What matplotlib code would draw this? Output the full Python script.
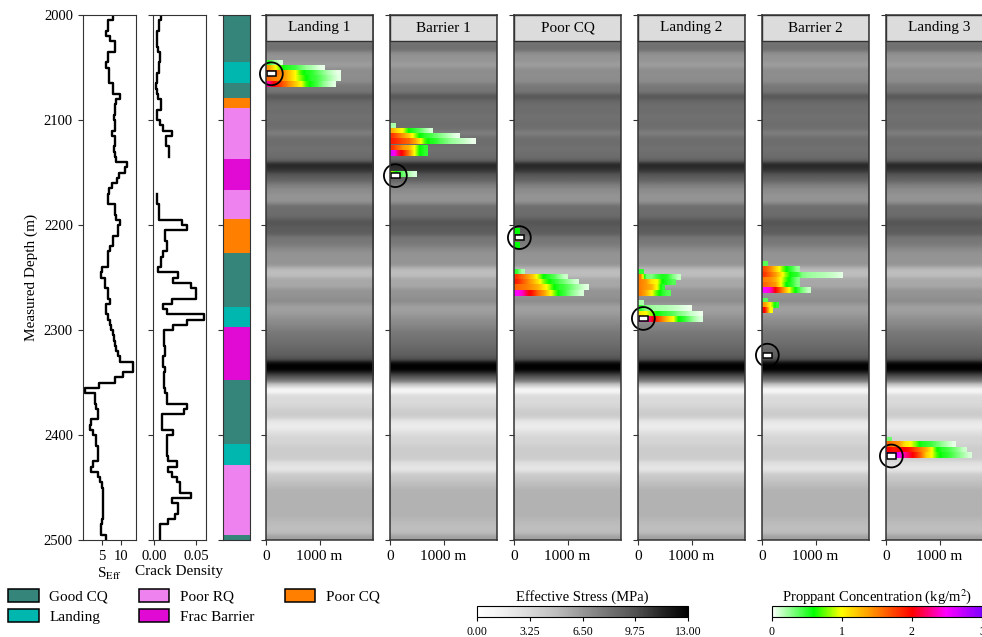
import numpy as np
import matplotlib
matplotlib.use('Agg')
import matplotlib.pyplot as plt
from matplotlib.colors import LinearSegmentedColormap, Normalize
from matplotlib.cm import ScalarMappable
from matplotlib.patches import Patch, Rectangle

plt.rcParams['font.family'] = 'serif'
plt.rcParams['font.serif'] = ['Liberation Serif', 'DejaVu Serif']
plt.rcParams['mathtext.fontset'] = 'stix'
plt.rcParams['font.size'] = 11

# ---- well logs, 5 m steps (top of each step)
depth_top = np.arange(2000, 2500, 5)
s_eff = [7.8, 6.6, 6.6, 5.9, 7.0, 8.3, 8.3, 6.6, 6.6, 6.1,
         6.9, 6.9, 6.9, 7.9, 7.9, 9.6, 8.6, 8.4, 8.4, 8.2,
         8.4, 8.4, 7.5, 8.4, 8.4, 8.2, 8.4, 8.6, 11.4, 10.9,
         9.5, 8.8, 7.5, 6.9, 6.6, 6.6, 8.4, 8.4, 8.6, 9.7,
         9.2, 9.2, 7.9, 7.9, 7.1, 6.6, 6.6, 6.6, 4.9, 4.8,
         5.8, 5.7, 6.6, 6.6, 7.0, 6.1, 6.1, 6.6, 7.0, 7.4,
         7.9, 8.1, 8.4, 8.7, 9.0, 9.6, 13.0, 13.0, 10.4, 8.3,
         4.2, 0.5, 3.1, 3.1, 3.4, 4.0, 4.0, 2.2, 1.8, 2.7,
         3.5, 3.5, 4.0, 4.0, 4.0, 2.7, 2.2, 4.0, 4.4, 4.9,
         5.3, 5.3, 5.3, 5.3, 5.3, 5.3, 5.0, 4.8, 4.8, 6.1]
crack = [0.008, 0.006, 0.006, 0.004, 0.003, 0.004, 0.005, 0.007, 0.007, 0.006,
         0.006, 0.004, 0.004, 0.002, 0.003, 0.005, 0.008, 0.008, 0.004, 0.004,
         0.007, 0.011, 0.021, 0.014, 0.014, 0.018, 0.018, np.nan, np.nan, np.nan,
         np.nan, np.nan, np.nan, np.nan, 0.004, 0.004, 0.006, 0.006, 0.006, 0.033,
         0.039, 0.013, 0.013, 0.016, 0.016, 0.011, 0.008, 0.008, 0.005, 0.029,
         0.023, 0.044, 0.050, 0.050, 0.021, 0.011, 0.015, 0.060, 0.039, 0.023,
         0.012, 0.012, 0.012, 0.013, 0.013, 0.011, 0.011, 0.013, 0.012, 0.012,
         0.012, 0.013, 0.015, 0.016, 0.039, 0.036, 0.009, 0.009, 0.009, 0.023,
         0.015, 0.015, 0.016, 0.016, 0.017, 0.027, 0.017, 0.022, 0.027, 0.031,
         0.031, 0.044, 0.021, 0.028, 0.028, 0.025, 0.017, 0.007, 0.007, 0.007]

# ---- facies column
facies_top = [2000, 2045, 2065, 2079, 2089, 2137, 2167, 2194, 2227, 2278, 2297, 2348, 2409, 2429, 2495]
facies_base = [2045, 2065, 2079, 2089, 2137, 2167, 2194, 2227, 2278, 2297, 2348, 2409, 2429, 2495, 2500]
facies = ['Good CQ', 'Landing', 'Good CQ', 'Poor CQ', 'Poor RQ', 'Frac Barrier', 'Poor RQ',
          'Poor CQ', 'Good CQ', 'Landing', 'Frac Barrier', 'Good CQ', 'Landing', 'Poor RQ', 'Good CQ']
facies_names = ['Good CQ', 'Landing', 'Poor RQ', 'Frac Barrier', 'Poor CQ']
facies_colors = ['#35857a', '#00b7b0', '#ee82ee', '#e00ad4', '#ff8000']

# ---- fracture simulations: rows of proppant concentration (kg/m2), 100 m cells
well_names = ['Landing 1', 'Barrier 1', 'Poor CQ', 'Landing 2', 'Barrier 2', 'Landing 3']
perf_depth = [2056, 2153, 2212, 2289, 2324, 2420]

landing1_tops = [2043, 2048, 2053, 2058, 2063]
landing1_conc = [
    [0.5, 0.25, 0.1],
    [1.4, 1.1, 0.8, 0.55, 0.5, 0.45, 0.35, 0.25, 0.2, 0.12, 0.06],
    [1.9, 1.7, 1.5, 1.4, 1.2, 1.0, 0.7, 0.55, 0.5, 0.4, 0.3, 0.2, 0.12, 0.06],
    [1.6, 1.5, 1.45, 1.4, 1.2, 1.0, 0.8, 0.6, 0.5, 0.45, 0.35, 0.25, 0.15, 0.08],
    [2.3, 2.0, 1.8, 1.6, 1.4, 1.2, 1.0, 0.7, 0.55, 0.45, 0.3, 0.18, 0.08]]
barrier1_tops = [2103, 2108, 2113, 2118, 2124, 2129, 2149]
barrier1_conc = [
    [0.2],
    [1.3, 1.1, 0.95, 0.6, 0.5, 0.4, 0.25, 0.1],
    [1.8, 1.6, 1.4, 1.2, 0.9, 0.6, 0.5, 0.45, 0.35, 0.28, 0.2, 0.12, 0.06],
    [1.9, 1.8, 1.7, 1.6, 1.4, 1.1, 0.7, 0.55, 0.5, 0.4, 0.32, 0.25, 0.2, 0.15, 0.1, 0.05],
    [1.8, 1.6, 1.4, 1.3, 1.0, 0.6, 0.5],
    [2.6, 2.2, 1.9, 1.5, 1.0, 0.6, 0.5],
    [0.8, 0.5, 0.35, 0.2, 0.1]]
poorcq_tops = [2203, 2210, 2217, 2242, 2247, 2252, 2257, 2262]
poorcq_conc = [
    [0.6],
    [1.2],
    [0.6],
    [0.5, 0.2],
    [1.8, 1.6, 1.4, 1.2, 0.9, 0.6, 0.5, 0.4, 0.25, 0.12],
    [1.9, 1.7, 1.5, 1.3, 1.1, 0.8, 0.6, 0.5, 0.4, 0.3, 0.2, 0.1],
    [1.6, 1.55, 1.5, 1.4, 1.3, 1.1, 0.9, 0.6, 0.5, 0.45, 0.35, 0.25, 0.15, 0.08],
    [2.5, 2.4, 2.1, 1.9, 1.6, 1.4, 1.1, 0.8, 0.55, 0.45, 0.3, 0.2, 0.1]]
landing2_tops = [2242, 2247, 2252, 2257, 2262, 2272, 2277, 2282, 2287]
landing2_conc = [
    [0.5],
    [1.5, 0.35, 0.3, 0.45, 0.55, 0.5, 0.3, 0.15],
    [1.5, 1.4, 1.1, 1.0, 0.6, 0.5, 0.4],
    [1.5, 1.4, 1.3, 1.0, 0.5],
    [1.5, 1.3, 1.0, 0.7, 0.5, 0.4],
    [0.2],
    [0.5, 0.3, 0.25, 0.2, 0.2, 0.18, 0.15, 0.12, 0.08, 0.05],
    [1.1, 1.0, 0.8, 0.6, 0.5, 0.45, 0.4, 0.3, 0.25, 0.15, 0.1, 0.05],
    [2.5, 2.4, 2.1, 1.8, 1.5, 1.2, 1.0, 0.6, 0.5, 0.35, 0.2, 0.1]]
barrier2_tops = [2235, 2240, 2245, 2250, 2255, 2260, 2270, 2274, 2279]
barrier2_conc = [
    [0.4],
    [1.7, 1.5, 1.2, 0.9, 0.6, 0.45, 0.25],
    [1.8, 1.6, 1.4, 1.1, 0.8, 0.55, 0.5, 0.3, 0.25, 0.22, 0.2, 0.18, 0.15, 0.12, 0.08],
    [1.5, 1.45, 1.3, 1.0, 0.7, 0.5, 0.3],
    [1.6, 1.5, 1.4, 1.0, 0.6, 0.5, 0.3],
    [2.5, 2.4, 2.0, 1.6, 1.2, 0.8, 0.5, 0.3, 0.15],
    [0.4],
    [1.4, 1.0, 0.5],
    [2.0, 1.0]]
landing3_tops = [2402, 2406, 2412, 2417]
landing3_conc = [
    [0.35],
    [1.6, 1.5, 1.4, 1.1, 1.0, 0.8, 0.55, 0.5, 0.45, 0.35, 0.25, 0.15, 0.07],
    [2.0, 1.9, 2.0, 2.0, 1.9, 1.7, 1.5, 1.3, 1.0, 0.6, 0.5, 0.45, 0.35, 0.25, 0.12],
    [3.0, 2.7, 2.5, 2.3, 2.1, 1.9, 1.6, 1.2, 1.0, 0.7, 0.55, 0.5, 0.4, 0.3, 0.2, 0.1]]

row_h = 5.2
cell = 100.0
prop_cmap = LinearSegmentedColormap.from_list(
    'prop', [(0, 'white'), (0.2, '#00ff00'), (0.33, '#ffff00'), (0.5, '#ff8000'),
             (0.67, '#ff0000'), (0.83, '#ff00ff'), (1.0, '#7f00ff')])

W, H = 982, 637
fig = plt.figure(figsize=(W / 100, H / 100), dpi=100)


def add_ax(l, r, t=15, b=540):
    return fig.add_axes([l / W, (H - b) / H, (r - l) / W, (b - t) / H])


spine_col = '#333333'
y_edges = np.column_stack([depth_top, depth_top + 5]).ravel()

# S_Eff log
ax1 = add_ax(82.7, 135.7)
ax1.plot(np.repeat(s_eff, 2), y_edges, color='k', lw=1.7)
ax1.set_xlim(0, 13.7)
ax1.set_xticks([5, 10])
ax1.set_xlabel(r'S$_{\mathrm{Eff}}$', labelpad=2)
ax1.set_ylabel('Measured Depth (m)')

# crack density log
ax2 = add_ax(152.7, 206)
ax2.plot(np.repeat(crack, 2), y_edges, color='k', lw=1.7)
ax2.set_xlim(-0.0016, 0.062)
ax2.set_xticks([0, 0.05])
ax2.set_xticklabels(['0.00', '0.05'])
ax2.set_xlabel('Crack Density', labelpad=2)
ax2.set_yticklabels([])

# facies column
ax3 = add_ax(222.7, 250)
col_of = dict(zip(facies_names, facies_colors))
ax3.bar(0, np.array(facies_base) - np.array(facies_top), bottom=facies_top, width=1,
        align='edge', color=[col_of[f] for f in facies], linewidth=0)
ax3.set_xlim(0, 1)
ax3.set_xticks([])
ax3.set_yticklabels([])

for a in (ax1, ax2, ax3):
    a.set_ylim(2500, 2000)
    a.set_yticks(np.arange(2000, 2501, 100))
    for s in a.spines.values():
        s.set_color(spine_col)
    a.tick_params(labelsize=10.5, color=spine_col)

# fracture panels
panel_tops = [landing1_tops, barrier1_tops, poorcq_tops, landing2_tops, barrier2_tops, landing3_tops]
panel_conc = [landing1_conc, barrier1_conc, poorcq_conc, landing2_conc, barrier2_conc, landing3_conc]
stress_img = np.array(s_eff)[:, None]
hdr = 26 / 525
for i, name in enumerate(well_names):
    left = 266 + 124 * i
    ax = add_ax(left, left + 107)
    ax.imshow(stress_img, extent=[0, 2000, 2500, 2000], cmap='Greys', vmin=0, vmax=13,
              aspect='auto', interpolation='gaussian', zorder=1)
    for top, conc in zip(panel_tops[i], panel_conc[i]):
        ax.imshow(np.array([conc]), extent=[0, cell * len(conc), top + row_h, top],
                  cmap=prop_cmap, vmin=0, vmax=3, aspect='auto',
                  interpolation='bilinear', zorder=2)
    d = perf_depth[i]
    ax.add_patch(Rectangle((25, d - 2.4), 160, 4.8, facecolor='white', edgecolor='k',
                           lw=1.1, zorder=7))
    ax.scatter([100], [d], s=270, facecolors='none', edgecolors='k', linewidths=1.3,
               zorder=8, clip_on=False)
    ax.add_patch(Rectangle((0, 1 - hdr), 1, hdr, transform=ax.transAxes,
                           facecolor='#dcdcdc', edgecolor=spine_col, lw=1.0, zorder=9))
    ax.text(0.5, 1 - hdr / 2, name, transform=ax.transAxes, ha='center', va='center',
            fontsize=11, zorder=10)
    ax.set_xlim(0, 2000)
    ax.set_ylim(2500, 2000)
    ax.set_yticks(np.arange(2000, 2501, 100))
    ax.set_yticklabels([])
    ax.set_xticks([0, 1000])
    ax.set_xticklabels(['0', '1000 m'])
    ax.tick_params(labelsize=11, color=spine_col)
    for s in ax.spines.values():
        s.set_color(spine_col)
        s.set_linewidth(1.1)
        s.set_zorder(11)

# legend
handles = [Patch(facecolor=c, edgecolor='k', lw=1.1) for c in facies_colors]
fig.legend(handles, facies_names, loc='upper left', bbox_to_anchor=(8 / W, 1 - 589 / H),
           ncol=3, frameon=False, fontsize=11, handlelength=2.0, handleheight=0.95,
           handletextpad=0.7, columnspacing=2.0, labelspacing=0.35, borderpad=0,
           borderaxespad=0)

# colorbars
cax1 = add_ax(477, 688, 606, 617)
cb1 = fig.colorbar(ScalarMappable(Normalize(0, 13), 'Greys'), cax=cax1, orientation='horizontal')
cb1.set_ticks([0, 3.25, 6.5, 9.75, 13])
cb1.set_ticklabels(['0.00', '3.25', '6.50', '9.75', '13.00'])
cb1.ax.tick_params(labelsize=8.5, length=3)
cb1.ax.set_title('Effective Stress (MPa)', fontsize=10.5, pad=4)

cax2 = add_ax(771.5, 982, 606, 617)
cb2 = fig.colorbar(ScalarMappable(Normalize(0, 3), prop_cmap), cax=cax2, orientation='horizontal')
cb2.set_ticks([0, 1, 2, 3])
cb2.ax.tick_params(labelsize=8.5, length=3)
cb2.ax.set_title(r'Proppant Concentration (kg/m$^2$)', fontsize=10.5, pad=4)

fig.savefig('out.png', dpi=100)
